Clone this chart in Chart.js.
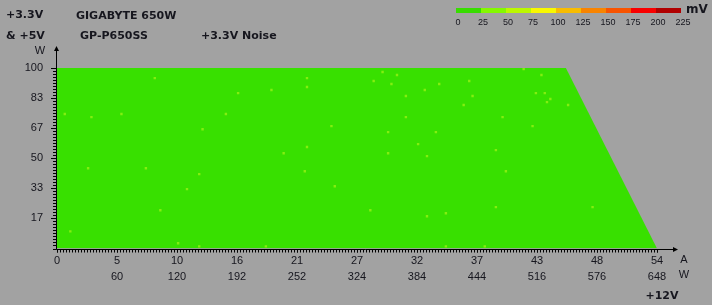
<!DOCTYPE html>
<html>
<head>
<meta charset="utf-8">
<script src="https://cdn.jsdelivr.net/npm/chart.js@4.4.0/dist/chart.umd.min.js"></script>
<style>
  html, body { margin: 0; padding: 0; background: #a2a2a2; }
  #wrap { width: 712px; height: 305px; position: relative; }
</style>
</head>
<body>
<div id="wrap"><canvas id="noiseChart"></canvas></div>
<script>
// +12V load (A / W) on x, +3.3V & +5V load (W) on y
const xTickValues = [0, 5.4, 10.8, 16.2, 21.6, 27, 32.4, 37.8, 43.2, 48.6, 54];
const xTickAmps = ['0', '5', '10', '16', '21', '27', '32', '37', '43', '48', '54'];
const xTickWatts = ['', '60', '120', '192', '252', '324', '384', '444', '516', '576', '648'];
const yTickValues = [16.67, 33.33, 50, 66.67, 83.33, 100];
const yTickLabels = ['17', '33', '50', '67', '83', '100'];

// tested load area (limited by 650 W combined)
const regionAmps = [0, 0, 45.8, 54];
const regionWatts = [0, 100, 100, 0];

// cells in the 25-50 mV band (the rest of the area is 0-25 mV)
const noiseAmps = [8.8, 0.7, 3.1, 5.8, 13.1, 2.8, 8.0, 12.8, 11.7, 9.3, 1.2, 10.9, 12.8,
  22.5, 22.5, 19.3, 16.3, 15.2, 24.7, 22.5, 20.4, 22.3, 25.0, 18.8,
  29.3, 30.6, 28.5, 30.1, 34.4, 37.1, 33.1, 31.4, 37.4, 36.6, 31.4, 40.1, 29.8, 34.1, 32.5,
  29.8, 33.3, 39.5, 40.4, 28.2, 39.5, 35.0, 33.3, 35.0, 38.5,
  42.0, 43.6, 43.1, 43.9, 44.4, 44.1, 46.0, 42.8, 48.2];
const noiseWatts = [94.4, 74.5, 72.8, 74.5, 66.1, 44.5, 44.5, 41.2, 32.9, 21.2, 9.5, 2.9, 1.2,
  94.4, 89.5, 87.8, 86.1, 74.5, 67.8, 56.2, 52.8, 42.8, 34.5, 1.2,
  97.8, 96.1, 92.8, 91.1, 91.1, 92.8, 87.8, 84.5, 84.5, 79.5, 72.8, 72.8, 64.5, 64.5, 57.8,
  52.8, 51.2, 54.5, 42.8, 21.2, 22.9, 19.5, 17.9, 1.2, 1.2,
  99.4, 96.1, 86.1, 86.1, 82.8, 81.1, 79.5, 67.8, 22.9];

const legendLabels = ['0', '25', '50', '75', '100', '125', '150', '175', '200', '225'];
const legendColors = ['#38dc00', '#84f800', '#bcf800', '#f8f800', '#f8bc00', '#f88400', '#f85400', '#f80000', '#b00000'];

const textColor = '#16161e';

const decorations = {
    id: 'decorations',
    afterDraw(chart) {
        const ctx = chart.ctx;
        const xs = chart.scales.x, ys = chart.scales.y;
        const area = chart.chartArea;
        const left = Math.round(area.left) - 0.5;
        const bottom = Math.round(area.bottom) + 0.5;
        ctx.save();
        ctx.lineWidth = 1;
        ctx.strokeStyle = '#000';
        ctx.fillStyle = '#000';

        // minor ticks
        ctx.beginPath();
        for (let i = 0; i <= 200; i++) {
            const px = Math.round(xs.getPixelForValue(i * 54 / 200)) + 0.5;
            ctx.moveTo(px, bottom);
            ctx.lineTo(px, bottom + 3);
        }
        for (let i = 0; i <= 60; i++) {
            const py = Math.round(ys.getPixelForValue(i * 100 / 60)) + 0.5;
            ctx.moveTo(left - 3.5, py);
            ctx.lineTo(left, py);
        }
        // axis lines with arrows
        ctx.moveTo(left, bottom);
        ctx.lineTo(left, 49);
        ctx.moveTo(left, bottom);
        ctx.lineTo(675, bottom);
        ctx.stroke();

        ctx.beginPath();
        ctx.moveTo(left, 46);
        ctx.lineTo(left - 2.5, 51);
        ctx.lineTo(left + 2.5, 51);
        ctx.closePath();
        ctx.fill();
        ctx.beginPath();
        ctx.moveTo(678, bottom);
        ctx.lineTo(673, bottom - 2.5);
        ctx.lineTo(673, bottom + 2.5);
        ctx.closePath();
        ctx.fill();

        // axis unit labels
        ctx.fillStyle = textColor;
        ctx.font = '11px "Liberation Sans"';
        ctx.textAlign = 'center';
        ctx.textBaseline = 'middle';
        ctx.fillText('W', 40, 51);
        ctx.fillText('A', 684, 260);
        ctx.fillText('W', 684, 275);

        // titles
        ctx.font = 'bold 11px "DejaVu Sans"';
        ctx.textAlign = 'left';
        ctx.fillText('+3.3V', 6, 15);
        ctx.fillText('& +5V', 6, 36);
        ctx.fillText('GIGABYTE 650W', 76, 16);
        ctx.fillText('GP-P650SS', 80, 36);
        ctx.fillText('+3.3V Noise', 201, 36);
        ctx.textAlign = 'center';
        ctx.fillText('+12V', 662, 296);

        // colour scale legend
        for (let i = 0; i < legendColors.length; i++) {
            ctx.fillStyle = legendColors[i];
            ctx.fillRect(456 + i * 25, 8, 25, 5);
        }
        ctx.fillStyle = textColor;
        ctx.font = '9px "Liberation Sans"';
        legendLabels.forEach((lab, i) => {
            ctx.fillText(lab, 458 + i * 25, 23);
        });
        ctx.font = 'bold 12px "DejaVu Sans"';
        ctx.textAlign = 'left';
        ctx.fillText('mV', 686, 10);
        ctx.restore();
    }
};

const ctx = document.getElementById('noiseChart').getContext('2d');
const noiseChart = new Chart(ctx, {
    type: 'scatter',
    data: {
        datasets: [{
            label: '25-50 mV',
            data: noiseAmps.map((a, i) => ({ x: a, y: noiseWatts[i] })),
            pointStyle: 'rect',
            pointRadius: 1.7,
            pointBackgroundColor: '#84ee10',
            pointBorderWidth: 0,
            order: 0
        }, {
            label: '0-25 mV',
            data: regionAmps.map((a, i) => ({ x: a, y: regionWatts[i] })),
            showLine: true,
            fill: 'origin',
            backgroundColor: '#38e000',
            borderWidth: 0,
            pointRadius: 0,
            tension: 0,
            order: 1
        }]
    },
    options: {
        responsive: true,
        maintainAspectRatio: false,
        animation: false,
        layout: { padding: { top: 68, right: 55, left: 0, bottom: 0 } },
        plugins: {
            legend: { display: false },
            tooltip: { enabled: false }
        },
        scales: {
            x: {
                type: 'linear',
                min: 0,
                max: 54,
                afterFit: (scale) => { scale.height = 56.5; },
                afterBuildTicks: (scale) => { scale.ticks = xTickValues.map(v => ({ value: v })); },
                grid: { drawOnChartArea: false, tickLength: 4, color: '#000', tickWidth: 1 },
                border: { display: false },
                ticks: {
                    autoSkip: false,
                    maxRotation: 0,
                    padding: 1,
                    color: textColor,
                    font: { family: 'Liberation Sans', size: 11, lineHeight: 1.4 },
                    callback: (value, index) => [xTickAmps[index], xTickWatts[index]]
                }
            },
            y: {
                type: 'linear',
                min: 0,
                max: 100,
                afterFit: (scale) => { scale.width = 57; },
                afterBuildTicks: (scale) => { scale.ticks = yTickValues.map(v => ({ value: v })); },
                grid: { drawOnChartArea: false, tickLength: 6, color: '#000', tickWidth: 1 },
                border: { display: false },
                ticks: {
                    autoSkip: false,
                    padding: 8,
                    color: textColor,
                    font: { family: 'Liberation Sans', size: 11 },
                    callback: (value, index) => yTickLabels[index]
                }
            }
        }
    },
    plugins: [decorations]
});
</script>
</body>
</html>
